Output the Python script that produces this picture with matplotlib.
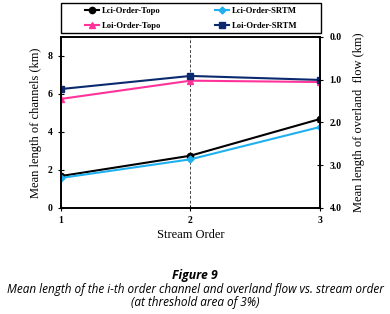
import matplotlib
matplotlib.use('Agg')
import matplotlib.pyplot as plt
from matplotlib.patches import Rectangle

# data
order = [1, 2, 3]
lci_topo = [1.68, 2.75, 4.68]
lci_srtm = [1.58, 2.56, 4.26]
loi_topo = [5.74, 6.70, 6.63]
loi_srtm = [6.26, 6.95, 6.74]
left_ticks = [0, 2, 4, 6, 8]
right_ticks = [0.0, 1.0, 2.0, 3.0, 4.0]

serif = 'Liberation Serif'

fig = plt.figure(figsize=(3.9, 3.14), dpi=100)
ax = fig.add_axes([0.156, 0.3376, 0.664, 0.5446])

l1, = ax.plot(order, lci_topo, color='black', marker='o', ms=4.5, lw=1.5, label='Lci-Order-Topo')
l2, = ax.plot(order, lci_srtm, color='#1fb0f0', marker='D', ms=3.5, lw=1.5, label='Lci-Order-SRTM')
l3, = ax.plot(order, loi_topo, color='#ff3399', marker='^', ms=4.5, lw=1.5, label='Loi-Order-Topo')
l4, = ax.plot(order, loi_srtm, color='#0b2a6e', marker='s', ms=4.5, lw=1.5, label='Loi-Order-SRTM')
ax.axvline(2, color='#444444', lw=0.7, ls=(0, (3, 2)), zorder=0)

ax.set_xlim(1, 3)
ax.set_ylim(0, 9)
ax.set_xticks(order)
ax.set_yticks(left_ticks)
ax.set_xticklabels([str(o) for o in order], fontfamily=serif, fontweight='bold', fontsize=7)
ax.set_yticklabels([str(t) for t in left_ticks], fontfamily=serif, fontweight='bold', fontsize=7)
ax.tick_params(direction='inout', length=4, width=0.8, pad=4)
ax.set_xlabel('Stream Order', fontfamily=serif, fontsize=9, labelpad=3)
ax.set_ylabel('Mean length of channels (km)', fontfamily=serif, fontsize=9, labelpad=4)
for s in ax.spines.values():
    s.set_linewidth(1.2)

ax2 = ax.twinx()
ax2.set_ylim(4.0, 0.0)
ax2.set_yticks(right_ticks)
ax2.set_yticklabels(['%.1f' % t for t in right_ticks], fontfamily=serif, fontweight='bold', fontsize=7)
ax2.tick_params(direction='inout', length=4, width=0.8, pad=5)
ax2.set_ylabel('Mean length of overland  flow (km)', fontfamily=serif, fontsize=9, labelpad=8)
for s in ax2.spines.values():
    s.set_linewidth(1.2)

# legend box drawn separately, legend itself frameless and centred in it
fig.patches.append(Rectangle((0.156, 0.895), 0.667, 0.096, transform=fig.transFigure,
                             fill=False, edgecolor='black', lw=1.0))
fig.legend([l1, l3, l2, l4], [l.get_label() for l in (l1, l3, l2, l4)],
           loc='center', bbox_to_anchor=(0.49, 0.941), ncol=2, frameon=False,
           prop={'family': serif, 'weight': 'bold', 'size': 6.2},
           handlelength=1.7, handletextpad=0.3, columnspacing=6.2, labelspacing=0.85)

fig.text(0.5, 0.112, 'Figure 9', ha='center', fontfamily='Open Sans', fontstyle='italic',
         fontweight='bold', fontsize=8.8)
fig.text(0.5, 0.067, 'Mean length of the i-th order channel and overland flow vs. stream order',
         ha='center', fontfamily='Open Sans', fontstyle='italic', fontsize=8.5)
fig.text(0.5, 0.025, '(at threshold area of 3%)', ha='center', fontfamily='Open Sans',
         fontstyle='italic', fontsize=8.5)

fig.savefig('out.png', dpi=100)
